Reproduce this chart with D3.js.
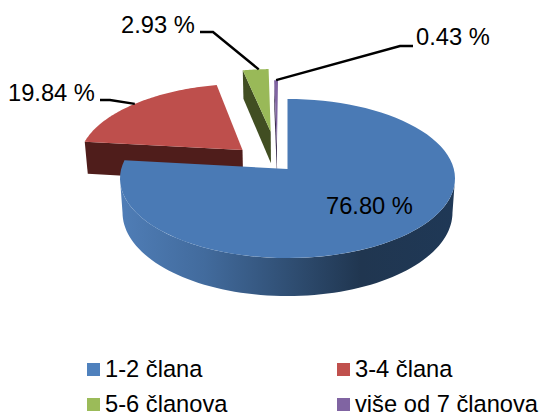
<!DOCTYPE html>
<html><head><meta charset="utf-8">
<script src="https://cdn.jsdelivr.net/npm/d3@7/dist/d3.min.js"></script>
<style>html,body{margin:0;padding:0;background:#fff}svg{display:block}text{font-family:"Liberation Sans",Arial,sans-serif;fill:#000}</style>
</head><body><script>
const categories = ["1-2 člana","3-4 člana","5-6 članova","više od 7 članova"];
const values = [76.80,19.84,2.93,0.43];
const valueLabels = ["76.80 %","19.84 %","2.93 %","0.43 %"];
const explodeSize = [0,0.375,0.515,0.317];
const explodeDirection = [0,312,348,348];
const topColors = ["#4a7ab5","#be4f4c","#99b958","#8064a2"];
const wallColors = ["#1f3552","#4f1d1b","#414e22","#3a2d4f"];
const legendColors = ["#4f81bd","#c0504d","#9bbb59","#8064a2"];

const W=542,H=414;
const svg=d3.select("body").append("svg").attr("width",W).attr("height",H);
const apex={x:287.5,y:169},a=166.3,b=78.4,k=0.1195,D=33.5,taper=0.015;
const px=d3.scaleLinear().domain([-1,1]).range([apex.x-a,apex.x+a]);
const py=d3.scaleLinear().domain([-1,1]).range([apex.y+b,apex.y-b]);
function project(u,v,z){
  const w=1+k*v, s=(1-z*taper);
  return [apex.x+(px(u)-apex.x)*s/w, apex.y+(py(v)-apex.y)/w+z*D/w];
}
const rad=Math.PI/180;
const arcs=d3.pie().sort(null).value(d=>d)(values);
const slices=arcs.map((s,i)=>{
  const dir=explodeDirection[i]*rad,e=explodeSize[i];
  return {i,start:s.startAngle,end:s.endAngle,ou:e*Math.sin(dir),ov:e*Math.cos(dir)};
});
const pt=(s,t,r,z)=>project(s.ou+r*Math.sin(t),s.ov+r*Math.cos(t),z);
const line=d3.line();
const rim=(s,t0,t1,z)=>d3.range(0,81).map(n=>pt(s,t0+(t1-t0)*n/80,1,z));

const defs=svg.append("defs");
const g=defs.append("linearGradient").attr("id","blueWall").attr("gradientUnits","userSpaceOnUse")
 .attr("x1",px(-1)).attr("x2",px(1)).attr("y1",0).attr("y2",0);
[[0,"#4f7db6"],[0.25,"#426b9d"],[0.5,"#304f74"],[0.72,"#203650"],[1,"#1f3856"]]
 .forEach(d=>g.append("stop").attr("offset",d[0]).attr("stop-color",d[1]));

// back to front
[3,2,1,0].forEach(i=>{
  const s=slices[i];
  const G=svg.append("g");
  if(i===0){
    const t0=Math.acos(-k),t1=2*Math.PI-t0;
    const front=rim(s,t0,t1,0);
    const back=rim(s,t1,t0,1);
    G.append("path").attr("d",line(front.concat(back))+"Z").attr("fill","url(#blueWall)");
  } else {
    G.append("path").attr("d",line([pt(s,0,0,0),pt(s,s.start,1,0),pt(s,s.start,1,1),pt(s,0,0,1)])+"Z")
     .attr("fill",wallColors[i]);
  }
  G.append("path").attr("d",line([pt(s,0,0,0)].concat(rim(s,s.start,s.end,0)))+"Z").attr("fill",topColors[i]);
});

// leader lines: from slice rim via elbow to label
const leaders=[
 {i:1,frac:0.5,via:[[110,100],[100,100]]},
 {i:2,frac:0.62,via:[[213,32],[200,32]]},
 {i:3,frac:0.5,via:[[400,46],[413,46]]}
];
leaders.forEach(l=>{
  const s=slices[l.i];
  const p=pt(s,s.start+(s.end-s.start)*l.frac,1,0);
  svg.append("path").attr("d",line([p].concat(l.via))).attr("fill","none").attr("stroke","#000").attr("stroke-width",2.4);
});

// data labels
const fs=23.7;
const labelPos=[[326,214],[8,101],[121,33],[416,45]];
labelPos.forEach((p,i)=>svg.append("text").attr("x",p[0]).attr("y",p[1]).attr("font-size",fs).text(valueLabels[i]));

// legend
const legendX=[87,337],legendY=[363,398];
categories.forEach((c,i)=>{
  const x=legendX[i%2],y=legendY[i>>1];
  svg.append("rect").attr("x",x).attr("y",y).attr("width",13).attr("height",13).attr("fill",legendColors[i]);
  svg.append("text").attr("x",x+18).attr("y",y+14).attr("font-size",fs).text(c);
});
</script></body></html>
